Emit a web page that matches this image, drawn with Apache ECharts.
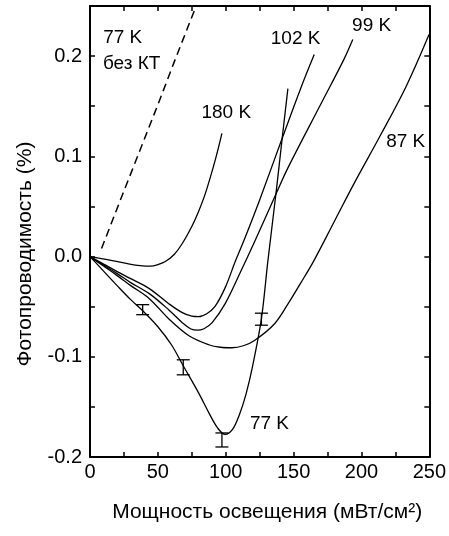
<!DOCTYPE html>
<html>
<head>
<meta charset="utf-8">
<script src="https://cdn.jsdelivr.net/npm/echarts@6/dist/echarts.min.js"></script>
<style>
html,body{margin:0;padding:0;background:#fff;}
#chart{width:449px;height:536px;}
</style>
</head>
<body>
<div id="chart"></div>
<script>
// ---- Data ----
const xMin = 0, xMax = 250, yMin = -0.2, yMax = 0.25;

const k77x  = [0, 10, 20, 30, 38.8, 50, 60, 68.7, 80, 88, 94, 99.5, 105, 110, 115, 120, 126.3, 131, 137.2, 141.6, 145.8];
const k77y  = [0, -0.0145, -0.029, -0.043, -0.054, -0.07, -0.088, -0.109, -0.136, -0.157, -0.171, -0.1775, -0.1725, -0.158, -0.137, -0.108, -0.062, -0.005, 0.065, 0.118, 0.1675];

const k87x  = [0, 10, 20, 30, 43.7, 58.3, 72.9, 87.5, 96, 104.5, 113, 121.5, 136, 146, 155, 165, 180, 195, 214, 233, 249.8];
const k87y  = [0, -0.0095, -0.019, -0.029, -0.042, -0.0625, -0.079, -0.088, -0.0905, -0.091, -0.089, -0.0835, -0.067, -0.047, -0.027, -0.004, 0.035, 0.074, 0.121, 0.170, 0.2215];

const k99x  = [0, 10, 20, 30, 43.7, 58.3, 68, 74, 79, 84, 90, 99.6, 110, 121.5, 137.2, 146, 170, 187, 193.6];
const k99y  = [0, -0.0085, -0.017, -0.026, -0.037, -0.0535, -0.066, -0.072, -0.0735, -0.072, -0.066, -0.047, -0.018, 0.0155, 0.063, 0.089, 0.152, 0.1965, 0.2165];

const k102x = [0, 10, 20, 30, 43.7, 58, 68, 75, 80, 86, 92, 99.6, 107, 114, 125, 141.6, 155, 165.2];
const k102y = [0, -0.0075, -0.015, -0.022, -0.032, -0.047, -0.056, -0.0595, -0.060, -0.057, -0.050, -0.031, -0.005, 0.018, 0.0565, 0.118, 0.167, 0.2015];

const k180x = [0, 14.6, 29.2, 37, 45, 50, 55.5, 62, 68, 75, 80, 85, 92, 97.2];
const k180y = [0, -0.0035, -0.0075, -0.009, -0.0095, -0.008, -0.005, 0.002, 0.013, 0.030, 0.045, 0.063, 0.095, 0.123];

const noQDx = [8.5, 24, 40, 51, 62, 78.2];
const noQDy = [0.008, 0.062, 0.117, 0.155, 0.194, 0.25];

const errX = [38.8, 68.7, 97.2, 126.3];
const errY = [-0.053, -0.1105, -0.183, -0.0625];
const errD = [0.005, 0.0075, 0.007, 0.006];

const labelTexts = ['77 K', 'без КТ', '180 K', '102 K', '99 K', '87 K', '77 K'];
const labelX     = [9.7, 9.5, 82.1, 133.2, 193.1, 218.2, 117.8];
const labelY     = [0.218, 0.192, 0.1437, 0.217, 0.230, 0.1145, -0.167];

const xTitle = 'Мощность освещения (мВт/см²)';
const yTitle = 'Фотопроводимость (%)';

// ---- Chart ----
const FONT = 'Liberation Sans, Arial, sans-serif';
const zip = (xs, ys) => xs.map((x, i) => [x, ys[i]]);
const isMult = (v, s) => Math.abs(v / s - Math.round(v / s)) < 1e-6;

const axisCommon = {
  type: 'value',
  axisLine: { show: true, onZero: false, lineStyle: { color: '#000', width: 2 } },
  axisTick: { show: true, inside: true, length: 5, lineStyle: { color: '#000', width: 1.5 } },
  splitLine: { show: false }
};

const curveStyle = { color: '#000', width: 1.3 };
function curve(name, xs, ys) {
  return {
    name, type: 'line', data: zip(xs, ys), showSymbol: false, symbol: 'none',
    smooth: 0.35,
    lineStyle: curveStyle, itemStyle: { color: '#000' }, silent: true
  };
}

const chart = echarts.init(document.getElementById('chart'), null, { renderer: 'canvas' });

const option = {
  animation: false,
  backgroundColor: '#fff',
  grid: { left: 90, right: 16, top: 6, bottom: 79, containLabel: false },
  xAxis: [
    Object.assign({}, axisCommon, {
      min: xMin, max: xMax, interval: 25, position: 'bottom',
      axisLabel: { formatter: v => isMult(v, 50) ? String(v) : '', fontSize: 20, color: '#000', fontFamily: FONT, margin: 5 },
      name: xTitle, nameLocation: 'middle', nameGap: 45,
      nameTextStyle: { fontSize: 21, color: '#000', fontFamily: FONT, padding: [0, 0, 0, 15] }
    }),
    Object.assign({}, axisCommon, {
      min: xMin, max: xMax, interval: 25, position: 'top',
      axisLabel: { show: false }
    })
  ],
  yAxis: [
    Object.assign({}, axisCommon, {
      min: yMin, max: yMax, interval: 0.05, position: 'left',
      axisLabel: { formatter: v => isMult(v, 0.1) ? v.toFixed(1) : '', fontSize: 20, color: '#000', fontFamily: FONT, margin: 8 }
    }),
    Object.assign({}, axisCommon, {
      min: yMin, max: yMax, interval: 0.05, position: 'right',
      axisLabel: { show: false }
    })
  ],
  graphic: [{
    type: 'text', x: 25, y: 254, rotation: Math.PI / 2,
    style: { text: yTitle, fontSize: 21, fontFamily: FONT, fill: '#000', align: 'center', verticalAlign: 'middle' }
  }],
  series: [
    curve('77 K', k77x, k77y),
    curve('87 K', k87x, k87y),
    curve('99 K', k99x, k99y),
    curve('102 K', k102x, k102y),
    curve('180 K', k180x, k180y),
    {
      name: '77 K без КТ', type: 'line', data: zip(noQDx, noQDy), showSymbol: false, symbol: 'none',
      lineStyle: { color: '#000', width: 1.5, type: [8, 5] }, silent: true
    },
    {
      name: 'errors', type: 'custom', silent: true,
      data: errX.map((x, i) => [x, errY[i], errD[i]]),
      renderItem: function (params, api) {
        const x = api.value(0), y = api.value(1), d = api.value(2);
        const lo = api.coord([x, y - d]);
        const hi = api.coord([x, y + d]);
        const w = 6.5;
        const st = { stroke: '#000', lineWidth: 1.3 };
        return {
          type: 'group',
          children: [
            { type: 'line', shape: { x1: lo[0], y1: lo[1], x2: hi[0], y2: hi[1] }, style: st },
            { type: 'line', shape: { x1: lo[0] - w, y1: lo[1], x2: lo[0] + w, y2: lo[1] }, style: st },
            { type: 'line', shape: { x1: hi[0] - w, y1: hi[1], x2: hi[0] + w, y2: hi[1] }, style: st }
          ]
        };
      }
    },
    {
      name: 'labels', type: 'custom', silent: true,
      data: labelX.map((x, i) => [x, labelY[i], i]),
      renderItem: function (params, api) {
        const p = api.coord([api.value(0), api.value(1)]);
        return {
          type: 'text', x: p[0], y: p[1],
          style: { text: labelTexts[api.value(2)], fontSize: 19, fontFamily: FONT, fill: '#000', align: 'left', verticalAlign: 'middle' }
        };
      }
    }
  ]
};
chart.setOption(option);
</script>
</body>
</html>
